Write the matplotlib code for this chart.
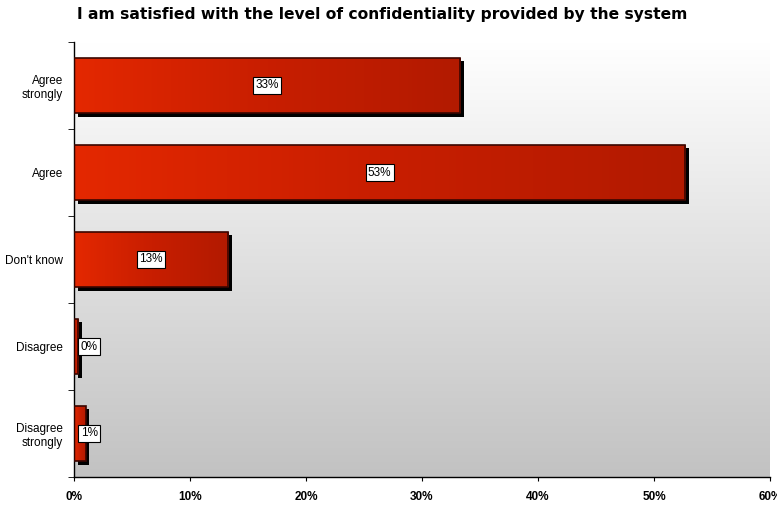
import numpy as np
import matplotlib.pyplot as plt
import matplotlib.transforms as mtransforms
from matplotlib.colors import LinearSegmentedColormap

categories = ['Agree\nstrongly', 'Agree', "Don't know", 'Disagree', 'Disagree\nstrongly']
values = [33.3, 52.7, 13.3, 0.35, 1.0]
labels = ['33%', '53%', '13%', '0%', '1%']
xticks = [0, 10, 20, 30, 40, 50, 60]

W, H = 777, 507
fig = plt.figure(figsize=(W / 100, H / 100), dpi=100)
fig.patch.set_facecolor('white')
ax = fig.add_axes([74 / W, 30 / H, 696 / W, 435 / H])

ax.set_xlim(0, 60)
ax.set_ylim(len(categories) - 0.5, -0.5)

# vertical grey background gradient, white at top
bg = LinearSegmentedColormap.from_list('bg', ['#ffffff', '#c2c2c2'])
ax.imshow(np.linspace(0, 1, 256).reshape(-1, 1), cmap=bg, aspect='auto',
          extent=[0, 60, len(categories) - 0.5, -0.5], zorder=0)

bar_cmap = LinearSegmentedColormap.from_list('bar', ['#e42800', '#c81e00', '#b21a00'])
grad = np.linspace(0, 1, 256).reshape(1, -1)
shadow = ax.transData + mtransforms.ScaledTranslation(3.5 / 100, -3.5 / 100, fig.dpi_scale_trans)

height = 0.64
for i, (v, lab) in enumerate(zip(values, labels)):
    ax.barh(i, v, height=height, color='black', transform=shadow, zorder=1)
    bar = ax.barh(i, v, height=height, color='none', edgecolor='#3a0600',
                  linewidth=1.2, zorder=3)[0]
    im = ax.imshow(grad, cmap=bar_cmap, aspect='auto',
                   extent=[0, v, i + height / 2, i - height / 2], zorder=2)
    im.set_clip_path(bar)
    xc = max(v / 2, 1.3)
    ax.text(xc, i, lab, ha='center', va='center', fontsize=8.5,
            family='Liberation Sans', zorder=4,
            bbox=dict(boxstyle='square,pad=0.2', facecolor='white',
                      edgecolor='black', linewidth=0.8))

ax.set_ylim(len(categories) - 0.5, -0.5)
ax.set_xlim(0, 60)
ax.set_yticks(range(len(categories)))
ax.set_yticklabels(categories, fontsize=8.5, family='Liberation Sans')
ax.set_yticks(np.arange(-0.5, len(categories), 1), minor=True)
ax.tick_params(axis='y', which='major', length=0, pad=8)
ax.tick_params(axis='y', which='minor', length=4, direction='out')
ax.set_xticks(xticks)
ax.set_xticklabels(['%d%%' % t for t in xticks], fontsize=8.5,
                   family='Liberation Sans', fontweight='bold')
ax.tick_params(axis='x', length=3, direction='out', pad=7)

for s in ['top', 'right']:
    ax.spines[s].set_visible(False)
ax.spines['left'].set_linewidth(1)
ax.spines['bottom'].set_linewidth(1)

fig.text(382 / W, 1 - 14 / H, 'I am satisfied with the level of confidentiality provided by the system',
         ha='center', va='center', fontsize=11.2, fontweight='bold')

fig.savefig('out.png', dpi=100)
